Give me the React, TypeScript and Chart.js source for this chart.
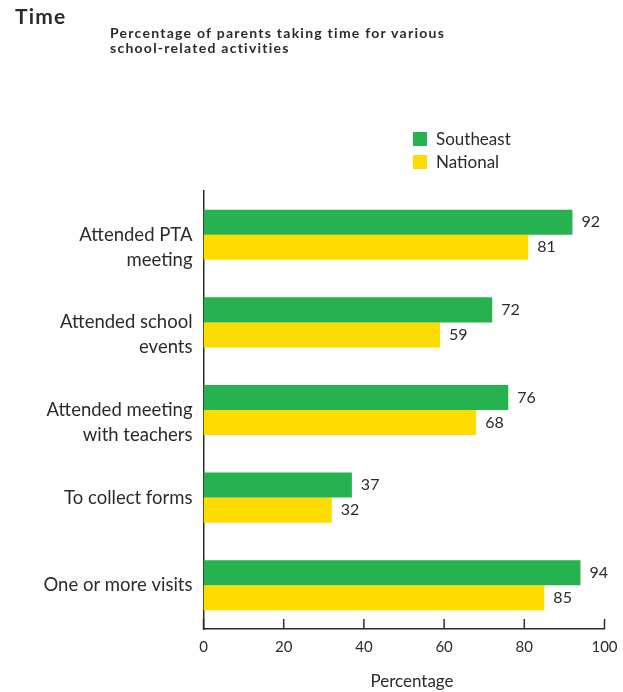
import React, { useEffect, useRef } from "react";
import { Chart, registerables } from "chart.js";

Chart.register(...registerables);

const categories: string[][] = [
  ["Attended PTA", "meeting"],
  ["Attended school", "events"],
  ["Attended meeting", "with teachers"],
  ["To collect forms", ""],
  ["One or more visits", ""],
];
const southeast = [92, 72, 76, 37, 94];
const national = [81, 59, 68, 32, 85];
const xTicks = [0, 20, 40, 60, 80, 100];

const GREEN = "#25b24f";
const YELLOW = "#ffdc00";
const TEXT = "#2b2b2b";
const FONT = "Lato, 'DejaVu Sans', sans-serif";

const valueLabels = {
  id: "valueLabels",
  afterDatasetsDraw(chart: any) {
    const ctx = chart.ctx;
    ctx.save();
    ctx.fillStyle = TEXT;
    ctx.font = `16px ${FONT}`;
    ctx.textAlign = "left";
    ctx.textBaseline = "middle";
    chart.data.datasets.forEach((ds: any, i: number) => {
      const meta = chart.getDatasetMeta(i);
      meta.data.forEach((bar: any, j: number) => {
        ctx.fillText(String(ds.data[j]), bar.x + 9, bar.y);
      });
    });
    ctx.restore();
  },
};

const tickMarks = {
  id: "tickMarks",
  afterDraw(chart: any) {
    const ctx = chart.ctx;
    const x = chart.scales.x;
    const bottom = chart.chartArea.bottom;
    ctx.save();
    ctx.strokeStyle = TEXT;
    ctx.lineWidth = 1.5;
    xTicks.forEach((v) => {
      const px = x.getPixelForValue(v);
      ctx.beginPath();
      ctx.moveTo(px, bottom);
      ctx.lineTo(px, bottom - 10);
      ctx.stroke();
    });
    ctx.restore();
  },
};

export default function App() {
  const ref = useRef<HTMLCanvasElement>(null);
  useEffect(() => {
    const chart = new Chart(ref.current as HTMLCanvasElement, {
      type: "bar",
      data: {
        labels: categories,
        datasets: [
          { label: "Southeast", data: southeast, backgroundColor: GREEN, categoryPercentage: 0.5714, barPercentage: 1 },
          { label: "National", data: national, backgroundColor: YELLOW, categoryPercentage: 0.5714, barPercentage: 1 },
        ],
      },
      options: {
        indexAxis: "y",
        animation: false,
        responsive: false,
        maintainAspectRatio: false,
        layout: { padding: { top: 191, right: 18.5, left: 0, bottom: 0 } },
        plugins: { legend: { display: false }, tooltip: { enabled: false }, title: { display: false } },
        scales: {
          x: {
            min: 0,
            max: 100,
            afterBuildTicks: (s: any) => {
              s.ticks = xTicks.map((v) => ({ value: v }));
            },
            afterFit: (s: any) => {
              s.height = 63;
              s.paddingRight = 0;
              s.paddingLeft = 0;
            },
            grid: { display: false, drawTicks: false },
            border: { display: true, color: TEXT, width: 1.5 },
            ticks: { color: TEXT, font: { family: FONT, size: 15 }, padding: 9, maxRotation: 0 },
          },
          y: {
            afterFit: (s: any) => {
              s.width = 203.5;
              s.paddingTop = 0;
              s.paddingBottom = 0;
            },
            grid: { display: false, drawTicks: false },
            border: { display: true, color: TEXT, width: 1.5 },
            ticks: {
              color: TEXT,
              font: { family: FONT, size: 18.5, lineHeight: 25 / 18.5 },
              padding: 11,
              labelOffset: 12.5,
              autoSkip: false,
            },
          },
        },
      },
      plugins: [valueLabels, tickMarks],
    });
    return () => chart.destroy();
  }, []);

  const abs = (s: React.CSSProperties): React.CSSProperties => ({ position: "absolute", whiteSpace: "nowrap", ...s });

  return (
    <div style={{ position: "absolute", left: 0, top: 0, width: 623, height: 692, background: "#fff", fontFamily: FONT, color: TEXT }}>
      <canvas ref={ref} width={623} height={692} style={{ position: "absolute", left: 0, top: 0, width: 623, height: 692 }} />
      <div style={abs({ left: 15, top: 3, fontSize: 21, fontWeight: 700, lineHeight: "26px", letterSpacing: "1.2px" })}>Time</div>
      <div style={abs({ left: 110, top: 25, fontSize: 14, fontWeight: 700, lineHeight: "15px", letterSpacing: "1.25px" })}>
        Percentage of parents taking time for various
        <br />
        school-related activities
      </div>
      <div style={abs({ left: 413, top: 132, width: 14, height: 14, background: GREEN })} />
      <div style={abs({ left: 436, top: 128, fontSize: 17, lineHeight: "22px" })}>Southeast</div>
      <div style={abs({ left: 413, top: 155, width: 14, height: 14, background: YELLOW })} />
      <div style={abs({ left: 436, top: 151, fontSize: 17, lineHeight: "22px" })}>National</div>
      <div style={abs({ left: 412, top: 670, fontSize: 17, lineHeight: "22px", transform: "translateX(-50%)" })}>Percentage</div>
    </div>
  );
}
